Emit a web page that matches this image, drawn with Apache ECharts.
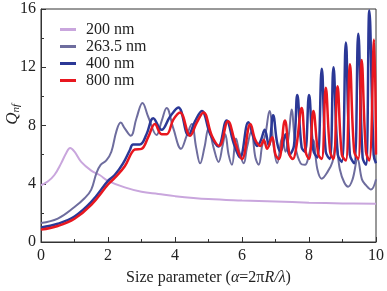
<!DOCTYPE html>
<html>
<head>
<meta charset="utf-8">
<script src="https://cdn.jsdelivr.net/npm/echarts@6/dist/echarts.min.js"></script>
<style>
  html, body { margin: 0; padding: 0; background: #fff; }
  #chart { width: 387px; height: 291px; }
</style>
</head>
<body>
<div id="chart"></div>
<script>
// legend names
var names = ["200 nm", "263.5 nm", "400 nm", "800 nm"];

// 200 nm
var x200 = [0, 0.2, 0.4, 0.6, 0.75, 0.87, 1.0, 1.2, 1.5, 1.75, 2.0, 2.5, 3.0, 3.5, 4.0, 5.0, 6.0, 7.0, 8.0, 9.0, 10.0];
var y200 = [3.9, 4.15, 4.6, 5.4, 6.1, 6.45, 6.2, 5.5, 4.9, 4.6, 4.2, 3.75, 3.45, 3.3, 3.15, 2.95, 2.85, 2.78, 2.7, 2.65, 2.62];

// 263.5 nm
var x263 = [0, 0.5, 1.0, 1.3, 1.5, 1.65, 1.78, 1.95, 2.1, 2.25, 2.38, 2.5, 2.68, 2.85, 3.03, 3.2, 3.45, 3.6, 3.75, 3.95,
  4.18, 4.35, 4.5, 4.63, 4.75, 4.88, 5.0, 5.15, 5.3, 5.42, 5.5, 5.6, 5.7, 5.82, 5.92, 6.05, 6.15, 6.28, 6.4, 6.5,
  6.6, 6.7, 6.82, 6.95, 7.05, 7.2, 7.3, 7.4, 7.48, 7.6, 7.75, 7.88, 8.0, 8.12, 8.25, 8.38, 8.55, 8.7, 8.8, 8.92,
  9.05, 9.17, 9.3, 9.45, 9.58, 9.7, 9.85, 10.0];
var y263 = [1.3, 1.6, 2.4, 3.0, 3.6, 4.7, 5.3, 5.6, 6.2, 7.6, 8.2, 7.8, 7.3, 8.5, 9.55, 8.6, 7.35, 8.3, 9.2, 7.8,
  6.4, 7.3, 8.1, 6.5, 5.4, 6.5, 7.8, 6.5, 5.5, 6.6, 7.4, 6.0, 5.3, 7.1, 6.2, 5.4, 6.5, 7.6, 5.8, 5.3,
  6.6, 7.4, 9.0, 6.5, 5.4, 7.2, 6.2, 7.4, 9.1, 6.5, 5.4, 5.3, 6.0, 7.0, 5.0, 4.35, 4.8, 5.5, 6.8, 5.0,
  4.1, 3.8, 4.3, 5.7, 4.3, 3.9, 3.6, 4.3];

// 400 nm
var x400 = [0, 0.5, 1.0, 1.5, 2.0, 2.2, 2.45, 2.65, 2.75, 2.95, 3.15, 3.35, 3.6, 3.85, 4.1, 4.4, 4.6, 4.8, 5.05, 5.29,
  5.54, 5.75, 5.94, 6.19, 6.34, 6.45, 6.55, 6.68, 6.8, 6.93, 7.05, 7.15, 7.3, 7.42, 7.55, 7.65, 7.78, 7.88, 8.0, 8.13,
  8.25, 8.38, 8.5, 8.62, 8.73, 8.86, 8.98, 9.1, 9.22, 9.35, 9.47, 9.6, 9.7, 9.8, 9.93, 10.0];
var y400 = [1.0, 1.25, 1.75, 2.75, 4.2, 4.6, 5.4, 6.3, 6.7, 6.7, 7.4, 8.5, 7.7, 8.6, 9.24, 7.34, 8.3, 9.0, 7.4, 6.56,
  8.35, 6.8, 5.8, 8.23, 7.2, 6.6, 6.9, 7.7, 6.6, 8.7, 6.8, 6.2, 7.4, 6.0, 6.6, 10.1, 6.5, 6.2, 10.1, 6.3,
  5.8, 11.9, 6.2, 5.7, 12.0, 6.0, 5.5, 13.7, 6.0, 5.4, 14.3, 5.8, 5.3, 15.9, 6.0, 5.4];

// 800 nm
var x800 = [0, 0.5, 1.0, 1.5, 2.0, 2.2, 2.5, 2.7, 2.8, 3.0, 3.2, 3.4, 3.6, 3.75, 3.95, 4.15, 4.45, 4.65, 4.85, 5.1,
  5.32, 5.58, 5.8, 6.0, 6.25, 6.4, 6.55, 6.65, 6.75, 6.9, 7.0, 7.1, 7.28, 7.42, 7.52, 7.62, 7.78, 7.9, 8.0, 8.13,
  8.28, 8.38, 8.5, 8.63, 8.73, 8.85, 8.98, 9.1, 9.22, 9.35, 9.47, 9.57, 9.7, 9.8, 9.94, 10.0];
var y800 = [0.85, 1.1, 1.6, 2.55, 3.95, 4.4, 5.2, 6.1, 6.35, 6.4, 7.2, 8.1, 7.4, 7.4, 8.4, 8.9, 7.3, 8.2, 8.9, 7.3,
  6.6, 8.3, 6.8, 5.7, 8.1, 7.0, 6.6, 7.0, 6.4, 7.2, 6.0, 5.7, 8.35, 6.0, 5.7, 6.5, 9.2, 6.2, 5.7, 9.0,
  6.0, 5.7, 10.6, 6.2, 5.7, 10.7, 6.0, 5.6, 12.2, 6.2, 5.7, 12.5, 6.2, 5.6, 13.9, 6.0];

var xTicks = [0, 2, 4, 6, 8, 10];
var yTicks = [0, 4, 8, 12, 16];

function pairs(xs, ys) {
  return xs.map(function (x, i) { return [x, ys[i]]; });
}

var colors = ["#c9a6dd", "#6e6d9e", "#2b3896", "#e8171f"];
var widths = [2, 2, 2.5, 2.5];
var dataSets = [pairs(x200, y200), pairs(x263, y263), pairs(x400, y400), pairs(x800, y800)];

var chart = echarts.init(document.getElementById("chart"));
var serif = "Liberation Serif";

var option = {
  animation: false,
  grid: {
    left: 41, right: 11, top: 9, bottom: 43,
    show: true, borderColor: "#333", borderWidth: 1, backgroundColor: "transparent"
  },
  legend: {
    orient: "vertical",
    left: 60, top: 21, padding: 0,
    icon: "rect",
    itemWidth: 16, itemHeight: 3, itemGap: 0,
    data: names,
    textStyle: { fontFamily: serif, fontSize: 16, lineHeight: 17, color: "#222", padding: [0, 0, 0, 5] }
  },
  xAxis: {
    type: "value", min: 0, max: 10, interval: 2,
    axisLine: { lineStyle: { color: "#333" } },
    axisTick: { inside: true, length: 5, lineStyle: { color: "#333" } },
    minorTick: { show: true, splitNumber: 2, length: 3, lineStyle: { color: "#333" } },
    splitLine: { show: false },
    axisLabel: {
      fontFamily: serif, fontSize: 16, color: "#222", margin: 6,
      formatter: function (v) { return xTicks.indexOf(v) >= 0 ? String(v) : ""; }
    },
    name: "{n|Size parameter (}{i|α}{n|=2π}{i|R/λ}{n|)}",
    nameLocation: "middle", nameGap: 28,
    nameTextStyle: {
      rich: {
        n: { fontFamily: serif, fontSize: 16, color: "#222" },
        i: { fontFamily: serif, fontSize: 16, fontStyle: "italic", color: "#222" }
      }
    }
  },
  yAxis: {
    type: "value", min: 0, max: 16, interval: 4,
    axisLine: { lineStyle: { color: "#333" } },
    axisTick: { inside: true, length: 5, lineStyle: { color: "#333" } },
    minorTick: { show: true, splitNumber: 2, length: 3, lineStyle: { color: "#333" } },
    splitLine: { show: false },
    axisLabel: {
      fontFamily: serif, fontSize: 16, color: "#222", margin: 5,
      formatter: function (v) { return yTicks.indexOf(v) >= 0 ? String(v) : ""; }
    }
  },
  graphic: [{
    type: "text",
    left: 4, top: 104,
    rotation: Math.PI / 2,
    style: {
      text: "{q|Q}{s|nf}",
      rich: {
        q: { fontFamily: serif, fontSize: 17, fontStyle: "italic", fill: "#222" },
        s: { fontFamily: serif, fontSize: 11, fontStyle: "italic", fill: "#222", verticalAlign: "bottom", padding: [8, 0, 0, 0] }
      }
    }
  }],
  series: names.map(function (n, i) {
    return {
      name: n,
      type: "line",
      data: dataSets[i],
      smooth: 0.4,
      showSymbol: false,
      symbol: "none",
      color: colors[i],
      lineStyle: { color: colors[i], width: widths[i] }
    };
  })
};

chart.setOption(option);
</script>
</body>
</html>
